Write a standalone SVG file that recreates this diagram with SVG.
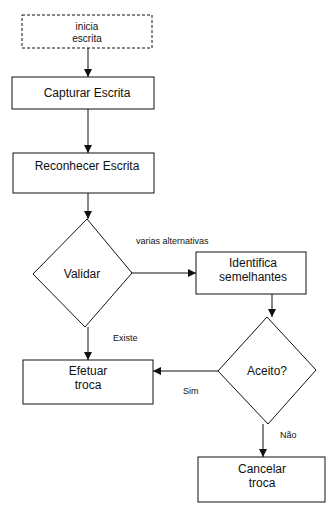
<svg xmlns="http://www.w3.org/2000/svg" width="326" height="507" viewBox="0 0 326 507">
<style>
.box{fill:#fff;stroke:#111;stroke-width:1}
.dash{fill:#fff;stroke:#111;stroke-width:1;stroke-dasharray:3,2}
.t{font-family:"Liberation Sans",Arial,sans-serif;font-size:12px;fill:#111;text-anchor:middle}
.s{font-family:"Liberation Sans",Arial,sans-serif;font-size:10px;fill:#111;text-anchor:middle}
.l{font-family:"Liberation Sans",Arial,sans-serif;font-size:9px;fill:#111}
.c{fill:none;stroke:#111;stroke-width:1}
</style>
<defs>
<marker id="ah" markerWidth="8" markerHeight="8" refX="8" refY="4" orient="auto" markerUnits="userSpaceOnUse">
<path d="M0,0 L8,4 L0,8 Z" fill="#111"/>
</marker>
</defs>
<rect width="326" height="507" fill="#fff"/>
<g id="connectors">
<line class="c" x1="88" y1="48" x2="88" y2="77" marker-end="url(#ah)"/>
<line class="c" x1="88" y1="109" x2="88" y2="153" marker-end="url(#ah)"/>
<line class="c" x1="88" y1="193" x2="88" y2="219" marker-end="url(#ah)"/>
<line class="c" x1="132" y1="273" x2="196" y2="273" marker-end="url(#ah)"/>
<line class="c" x1="88" y1="327" x2="88" y2="360" marker-end="url(#ah)"/>
<line class="c" x1="272" y1="294" x2="272" y2="317" marker-end="url(#ah)"/>
<line class="c" x1="218" y1="371" x2="153" y2="371" marker-end="url(#ah)"/>
<line class="c" x1="263" y1="424" x2="263" y2="457" marker-end="url(#ah)"/>
<text class="l" x="136" y="244">varias alternativas</text>
<text class="l" x="113" y="341">Existe</text>
<text class="l" x="183" y="394">Sim</text>
<text class="l" x="280" y="438">Não</text>
</g>
<g id="inicia">
<rect class="dash" x="22" y="15" width="130" height="33"/>
<text class="s" x="87" y="30">inicia</text>
<text class="s" x="87" y="42">escrita</text>
</g>
<g id="capturar">
<rect class="box" x="12" y="77" width="142" height="32"/>
<text class="t" x="87" y="97">Capturar Escrita</text>
</g>
<g id="reconhecer">
<rect class="box" x="13" y="153" width="141" height="40"/>
<text class="t" x="87" y="170">Reconhecer Escrita</text>
</g>
<g id="validar">
<polygon class="box" points="87,219 132,273 85,327 33,274"/>
<text class="t" x="82" y="278">Validar</text>
</g>
<g id="identifica">
<rect class="box" x="196" y="252" width="110" height="42"/>
<text class="t" x="253" y="267">Identifica</text>
<text class="t" x="253" y="281">semelhantes</text>
</g>
<g id="efetuar">
<rect class="box" x="23" y="360" width="130" height="44"/>
<text class="t" x="88" y="375">Efetuar</text>
<text class="t" x="88" y="389">troca</text>
</g>
<g id="aceito">
<polygon class="box" points="267,317 316,370 268,424 218,371"/>
<text class="t" x="267" y="375">Aceito?</text>
</g>
<g id="cancelar">
<rect class="box" x="198" y="457" width="127" height="45"/>
<text class="t" x="262" y="473">Cancelar</text>
<text class="t" x="262" y="487">troca</text>
</g>
</svg>
